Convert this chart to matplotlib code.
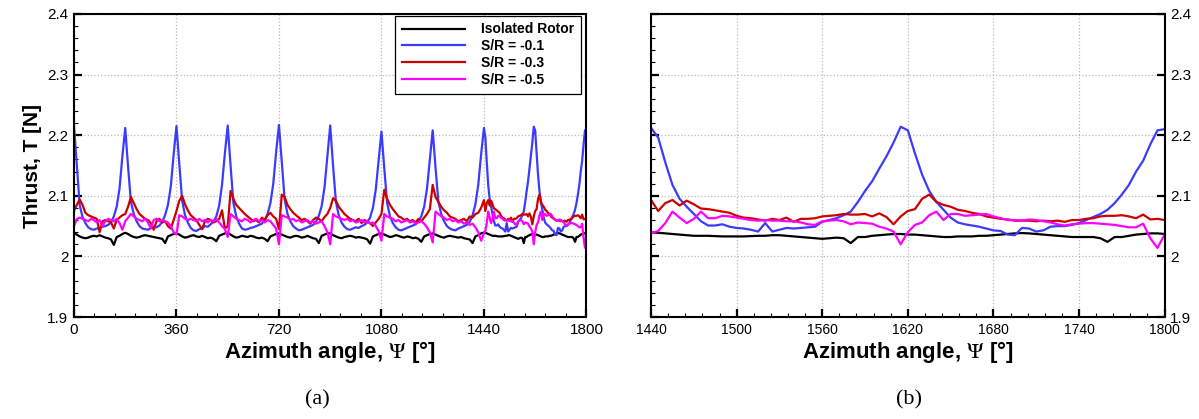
import numpy as np
import matplotlib
matplotlib.use('Agg')
import matplotlib.pyplot as plt
from matplotlib.ticker import MultipleLocator, FixedLocator, FixedFormatter

plt.rcParams['font.family'] = ['Liberation Sans', 'DejaVu Sans']
plt.rcParams['mathtext.fontset'] = 'stix'

# Azimuth grid: 10 deg steps for the first four revolutions, 5 deg for the last
psi_a = np.arange(0, 1440, 10)
psi_b = np.arange(1440, 1801, 5)

# Isolated rotor
iso_a = [2.038, 2.036, 2.033, 2.031, 2.030, 2.031, 2.033, 2.034, 2.033, 2.035, 2.033, 2.031, 2.030, 2.028, 2.019, 2.032, 2.034, 2.037,
         2.039, 2.037, 2.034, 2.032, 2.031, 2.032, 2.034, 2.035, 2.034, 2.033, 2.032, 2.031, 2.030, 2.029, 2.022, 2.033, 2.035, 2.037,
         2.038, 2.036, 2.033, 2.031, 2.032, 2.034, 2.035, 2.033, 2.032, 2.034, 2.032, 2.030, 2.031, 2.029, 2.025, 2.034, 2.036, 2.038,
         2.039, 2.036, 2.033, 2.031, 2.032, 2.034, 2.033, 2.032, 2.034, 2.033, 2.031, 2.030, 2.031, 2.029, 2.025, 2.033, 2.035, 2.037,
         2.038, 2.036, 2.034, 2.032, 2.031, 2.033, 2.034, 2.033, 2.031, 2.032, 2.034, 2.032, 2.030, 2.029, 2.022, 2.034, 2.036, 2.038,
         2.038, 2.035, 2.033, 2.031, 2.030, 2.032, 2.033, 2.034, 2.033, 2.031, 2.032, 2.031, 2.030, 2.028, 2.021, 2.033, 2.035, 2.037,
         2.038, 2.036, 2.034, 2.032, 2.033, 2.035, 2.034, 2.032, 2.031, 2.033, 2.032, 2.030, 2.031, 2.029, 2.024, 2.033, 2.035, 2.037,
         2.038, 2.036, 2.034, 2.032, 2.031, 2.033, 2.034, 2.033, 2.032, 2.031, 2.032, 2.030, 2.029, 2.028, 2.022, 2.033, 2.035, 2.038]
iso_b = [2.0395, 2.039, 2.038, 2.037, 2.036, 2.035, 2.034, 2.034, 2.034, 2.0335, 2.033, 2.033, 2.033, 2.033, 2.0335, 2.034, 2.034, 2.035,
         2.035, 2.034, 2.033, 2.032, 2.031, 2.030, 2.029, 2.030, 2.031, 2.030, 2.022, 2.032, 2.032, 2.034, 2.035, 2.036, 2.037, 2.037,
         2.036, 2.036, 2.035, 2.034, 2.033, 2.032, 2.032, 2.033, 2.033, 2.033, 2.034, 2.034, 2.035, 2.036, 2.037, 2.038, 2.0385, 2.038,
         2.037, 2.036, 2.035, 2.034, 2.033, 2.032, 2.032, 2.032, 2.032, 2.030, 2.024, 2.032, 2.032, 2.034, 2.036, 2.037, 2.038, 2.038, 2.037]

# S/R = -0.1
sr1_a = [2.216, 2.150, 2.085, 2.065, 2.055, 2.048, 2.045, 2.044, 2.046, 2.047, 2.049, 2.050, 2.052, 2.056, 2.066, 2.082, 2.112, 2.165,
         2.212, 2.148, 2.090, 2.070, 2.058, 2.050, 2.046, 2.045, 2.044, 2.047, 2.049, 2.048, 2.051, 2.057, 2.068, 2.085, 2.115, 2.168,
         2.215, 2.152, 2.092, 2.068, 2.056, 2.047, 2.043, 2.042, 2.045, 2.046, 2.050, 2.049, 2.053, 2.058, 2.066, 2.084, 2.118, 2.170,
         2.216, 2.150, 2.088, 2.066, 2.054, 2.046, 2.044, 2.045, 2.047, 2.048, 2.050, 2.052, 2.054, 2.060, 2.070, 2.088, 2.120, 2.172,
         2.217, 2.155, 2.094, 2.070, 2.058, 2.050, 2.046, 2.043, 2.044, 2.046, 2.048, 2.050, 2.052, 2.057, 2.067, 2.083, 2.114, 2.166,
         2.216, 2.150, 2.090, 2.068, 2.056, 2.049, 2.045, 2.044, 2.046, 2.048, 2.047, 2.050, 2.052, 2.056, 2.064, 2.080, 2.110, 2.158,
         2.206, 2.145, 2.088, 2.066, 2.055, 2.048, 2.044, 2.043, 2.045, 2.047, 2.049, 2.051, 2.053, 2.058, 2.066, 2.082, 2.112, 2.160,
         2.208, 2.146, 2.090, 2.070, 2.058, 2.050, 2.046, 2.044, 2.043, 2.046, 2.048, 2.050, 2.052, 2.057, 2.068, 2.086, 2.118, 2.168]
sr1_b = [2.212, 2.196, 2.155, 2.118, 2.095, 2.082, 2.070, 2.058, 2.051, 2.051, 2.053, 2.049, 2.047, 2.046, 2.044, 2.041, 2.055, 2.041,
         2.044, 2.047, 2.046, 2.047, 2.048, 2.049, 2.057, 2.060, 2.063, 2.068, 2.074, 2.090, 2.108, 2.124, 2.145, 2.165, 2.188, 2.214,
         2.208, 2.170, 2.135, 2.108, 2.090, 2.077, 2.064, 2.056, 2.053, 2.051, 2.049, 2.046, 2.043, 2.042, 2.036, 2.035, 2.047, 2.046,
         2.041, 2.043, 2.049, 2.050, 2.050, 2.052, 2.055, 2.060, 2.065, 2.070, 2.077, 2.088, 2.102, 2.118, 2.140, 2.158, 2.185, 2.208, 2.210]

# S/R = -0.3
sr3_a = [2.075, 2.085, 2.094, 2.085, 2.072, 2.068, 2.066, 2.064, 2.062, 2.040, 2.058, 2.060, 2.058, 2.056, 2.046, 2.060, 2.064, 2.068,
         2.070, 2.082, 2.098, 2.088, 2.078, 2.070, 2.066, 2.062, 2.060, 2.055, 2.044, 2.058, 2.062, 2.056, 2.058, 2.050, 2.046, 2.060,
         2.075, 2.092, 2.100, 2.086, 2.076, 2.068, 2.064, 2.060, 2.052, 2.045, 2.058, 2.062, 2.060, 2.056, 2.058, 2.062, 2.076, 2.046,
         2.050, 2.108, 2.095, 2.085, 2.080, 2.075, 2.070, 2.066, 2.062, 2.058, 2.060, 2.056, 2.064, 2.060, 2.068, 2.072, 2.066, 2.062,
         2.045, 2.102, 2.098, 2.085, 2.078, 2.072, 2.068, 2.064, 2.060, 2.062, 2.058, 2.054, 2.060, 2.064, 2.062, 2.058, 2.065, 2.070,
         2.080, 2.096, 2.092, 2.082, 2.076, 2.070, 2.066, 2.062, 2.060, 2.058, 2.062, 2.055, 2.060, 2.058, 2.055, 2.050, 2.056, 2.062,
         2.070, 2.110, 2.095, 2.085, 2.078, 2.072, 2.066, 2.064, 2.060, 2.062, 2.058, 2.060, 2.056, 2.062, 2.058, 2.064, 2.070, 2.078,
         2.118, 2.098, 2.090, 2.082, 2.076, 2.072, 2.066, 2.064, 2.062, 2.058, 2.060, 2.062, 2.058, 2.066, 2.064, 2.070, 2.072, 2.080]
sr3_b = [2.093, 2.075, 2.088, 2.093, 2.084, 2.092, 2.086, 2.079, 2.078, 2.076, 2.074, 2.072, 2.067, 2.064, 2.063, 2.061, 2.059, 2.062,
         2.060, 2.064, 2.057, 2.062, 2.062, 2.063, 2.066, 2.067, 2.068, 2.070, 2.069, 2.069, 2.070, 2.066, 2.071, 2.065, 2.053, 2.066,
         2.075, 2.078, 2.095, 2.102, 2.090, 2.085, 2.082, 2.077, 2.075, 2.072, 2.070, 2.066, 2.064, 2.062, 2.061, 2.059, 2.059, 2.059,
         2.058, 2.059, 2.058, 2.059, 2.057, 2.060, 2.060, 2.062, 2.063, 2.066, 2.067, 2.067, 2.068, 2.066, 2.063, 2.069, 2.061, 2.062, 2.060]

# S/R = -0.5
sr5_a = [2.050, 2.062, 2.064, 2.062, 2.060, 2.058, 2.062, 2.060, 2.056, 2.060, 2.050, 2.058, 2.062, 2.060, 2.058, 2.062, 2.055, 2.044,
         2.058, 2.064, 2.070, 2.066, 2.062, 2.060, 2.058, 2.062, 2.056, 2.046, 2.060, 2.062, 2.058, 2.060, 2.058, 2.056, 2.050, 2.040,
         2.036, 2.068, 2.066, 2.062, 2.060, 2.062, 2.060, 2.058, 2.062, 2.058, 2.060, 2.056, 2.060, 2.058, 2.062, 2.056, 2.050, 2.045,
         2.032, 2.070, 2.066, 2.062, 2.060, 2.058, 2.062, 2.060, 2.056, 2.060, 2.062, 2.058, 2.060, 2.056, 2.060, 2.058, 2.052, 2.046,
         2.020, 2.068, 2.066, 2.064, 2.060, 2.062, 2.058, 2.060, 2.056, 2.058, 2.060, 2.056, 2.058, 2.054, 2.056, 2.058, 2.050, 2.040,
         2.020, 2.070, 2.066, 2.064, 2.062, 2.060, 2.062, 2.058, 2.060, 2.056, 2.058, 2.060, 2.056, 2.058, 2.054, 2.056, 2.050, 2.042,
         2.026, 2.070, 2.066, 2.064, 2.062, 2.058, 2.060, 2.056, 2.058, 2.060, 2.056, 2.058, 2.054, 2.056, 2.058, 2.054, 2.048, 2.040,
         2.023, 2.074, 2.070, 2.066, 2.064, 2.060, 2.062, 2.058, 2.060, 2.056, 2.058, 2.054, 2.056, 2.052, 2.054, 2.048, 2.040, 2.026]
sr5_b = [2.038, 2.042, 2.055, 2.074, 2.064, 2.055, 2.062, 2.074, 2.063, 2.063, 2.067, 2.066, 2.064, 2.062, 2.060, 2.059, 2.060, 2.059,
         2.059, 2.058, 2.058, 2.056, 2.053, 2.052, 2.058, 2.059, 2.060, 2.058, 2.053, 2.056, 2.055, 2.054, 2.049, 2.046, 2.041, 2.020,
         2.040, 2.052, 2.056, 2.068, 2.074, 2.060, 2.070, 2.070, 2.067, 2.068, 2.069, 2.070, 2.066, 2.063, 2.060, 2.060, 2.059, 2.061,
         2.060, 2.058, 2.056, 2.053, 2.051, 2.053, 2.054, 2.055, 2.055, 2.054, 2.053, 2.052, 2.050, 2.048, 2.048, 2.054, 2.030, 2.014, 2.036]

labels = ['Isolated Rotor', 'S/R = -0.1', 'S/R = -0.3', 'S/R = -0.5']
colors = ['black', '#3b3bff', '#cc0000', '#ff00ff']
y_ticks = [1.9, 2.0, 2.1, 2.2, 2.3, 2.4]
y_ticklabels = ['1.9', '2', '2.1', '2.2', '2.3', '2.4']

psi = np.concatenate([psi_a, psi_b])
series = [np.concatenate([iso_a, iso_b]), np.concatenate([sr1_a, sr1_b]),
          np.concatenate([sr3_a, sr3_b]), np.concatenate([sr5_a, sr5_b])]

fig = plt.figure(figsize=(11.99, 4.19), dpi=100)
ax1 = fig.add_axes([0.0617, 0.2434, 0.4274, 0.7232])
ax2 = fig.add_axes([0.5430, 0.2434, 0.4283, 0.7232])


def style_axis(ax, x0, x1, xmajor, xminor):
    ax.set_xlim(x0, x1)
    ax.set_ylim(1.9, 2.4)
    ax.xaxis.set_major_locator(MultipleLocator(xmajor))
    ax.xaxis.set_minor_locator(MultipleLocator(xminor))
    ax.yaxis.set_major_locator(FixedLocator(y_ticks))
    ax.yaxis.set_major_formatter(FixedFormatter(y_ticklabels))
    ax.yaxis.set_minor_locator(MultipleLocator(0.02))
    ax.tick_params(which='major', direction='in', length=6, width=1.6, labelsize=11, pad=4)
    ax.tick_params(which='minor', direction='in', length=3, width=0.8)
    ax.grid(True, which='major', linestyle=':', color='#b8b8b8', linewidth=0.9)
    for s in ax.spines.values():
        s.set_linewidth(1.5)
    ax.set_xlabel('Azimuth angle, $\\Psi$ [°]', fontsize=16, fontweight='bold', labelpad=2)


# (a) full time history
for y, c, lab in zip(series, colors, labels):
    ax1.plot(psi, y, color=c, lw=1.6, label=lab)
style_axis(ax1, 0, 1800, 360, 72)
ax1.set_ylabel('Thrust, T [N]', fontsize=15, fontweight='bold', labelpad=4)
leg = ax1.legend(loc='upper right', bbox_to_anchor=(0.99, 0.995), borderaxespad=0,
                 fancybox=False, framealpha=1, edgecolor='black', handlelength=4.5,
                 handletextpad=1.2, labelspacing=0.2, borderpad=0.5,
                 prop={'weight': 'bold', 'size': 10})
leg.get_frame().set_linewidth(0.9)

# (b) last revolution
for y, c in zip(series, colors):
    ax2.plot(psi, y, color=c, lw=1.6)
style_axis(ax2, 1440, 1800, 60, 12)
ax2.tick_params(axis='x', labelsize=10)
ax2.tick_params(axis='y', which='major', right=True, labelleft=False, labelright=True)
ax2.tick_params(axis='y', which='minor', right=False)

fig.text(0.265, 0.035, '(a)', fontsize=16, family='Liberation Serif', ha='center')
fig.text(0.758, 0.035, '(b)', fontsize=16, family='Liberation Serif', ha='center')

plt.savefig('out.png', dpi=100)
